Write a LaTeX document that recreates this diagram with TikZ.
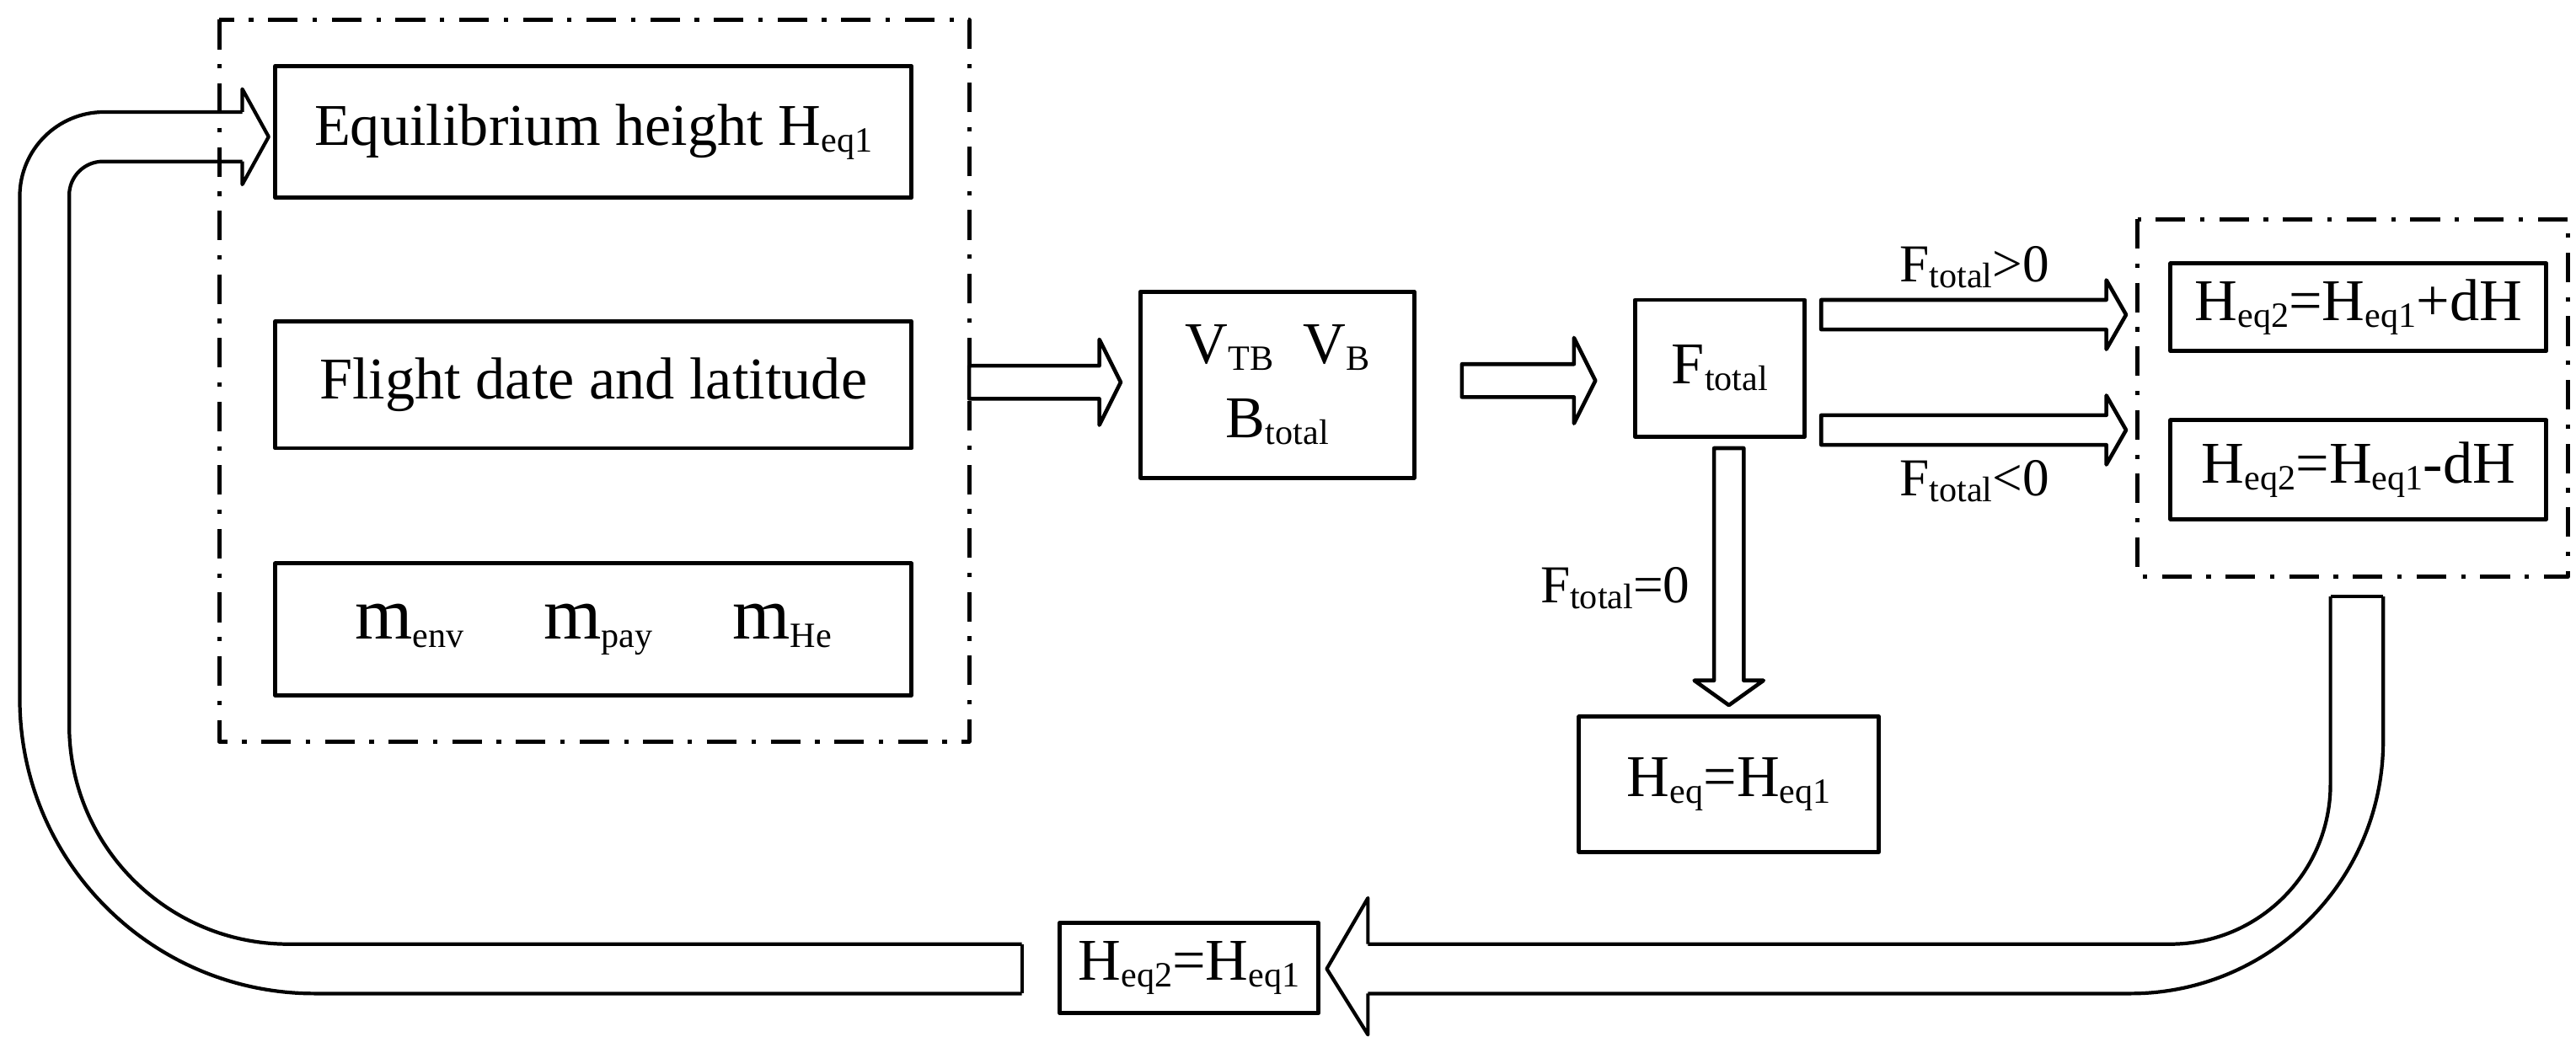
\documentclass[tikz,border=0pt]{standalone}
\usepackage{fontspec}
\setmainfont{Liberation Serif}
\usepackage{tikz}
\newcommand{\lo}[1]{\raisebox{-0.25ex}{\fontsize{12}{13}\selectfont #1}}

\begin{document}
\begin{tikzpicture}[x=0.01956cm,y=-0.01956cm,line join=round,
    box/.style={draw,line width=1.4pt,inner sep=0pt,align=center,font=\fontsize{20}{25}\selectfont},
    blk/.style={draw,line width=1.3pt,fill=white},
    pipe/.style={draw,line width=1.2pt},
    dashdot/.style={line width=1.4pt,dash pattern=on 10pt off 5pt on 1.5pt off 5pt},
    lab/.style={inner sep=0pt,font=\fontsize{18}{22}\selectfont}]
      \useasboundingbox (0,0) rectangle (1563,629);
      % input group
      \draw[dashdot] (133,12) rectangle (588,450);
      \node[box,minimum width=7.55cm,minimum height=1.565cm] (height) at (360,80) {Equilibrium height H\lo{eq1}};
      \node[box,minimum width=7.55cm,minimum height=1.506cm] (date) at (360,233.5) {Flight date and latitude};
      \node[box,minimum width=7.55cm,minimum height=1.565cm] (mass) at (360,382)
        {\fontsize{25}{27}\selectfont m\lo{env}\hspace{0.95cm}m\lo{pay}\hspace{0.95cm}m\lo{He}};
      % volume and buoyancy
      \node[box,minimum width=3.247cm,minimum height=2.21cm] (buoy) at (775,233.5) {V\lo{TB}\ \ V\lo{B}\\B\lo{total}};
      \node[box,minimum width=2.015cm,minimum height=1.623cm] (force) at (1043.5,223.5) {F\lo{total}};
      % results
      \draw[dashdot] (1297,133) rectangle (1558,350);
      \node[box,minimum width=4.46cm,minimum height=1.037cm] (up) at (1431,186.5) {H\lo{eq2}=H\lo{eq1}+dH};
      \node[box,minimum width=4.46cm,minimum height=1.174cm] (down) at (1431,285) {H\lo{eq2}=H\lo{eq1}-dH};
      \node[box,minimum width=3.56cm,minimum height=1.604cm] (stay) at (1049,476) {H\lo{eq}=H\lo{eq1}};
      \node[box,minimum width=3.07cm,minimum height=1.076cm] (next) at (721.5,587.5) {H\lo{eq2}=H\lo{eq1}};
      % block arrows
      \draw[blk] (588,222) -- (667,222) -- (667,206) -- (680,232) -- (667,258) -- (667,242) -- (588,242) -- cycle;
      \draw[blk] (887,221) -- (955,221) -- (955,205) -- (968,231) -- (955,257) -- (955,241) -- (887,241) -- cycle;
      \draw[blk] (1105,182) -- (1278,182) -- (1278,170) -- (1290,191) -- (1278,212) -- (1278,200) -- (1105,200) -- cycle;
      \draw[blk] (1105,252) -- (1278,252) -- (1278,240) -- (1290,261) -- (1278,282) -- (1278,270) -- (1105,270) -- cycle;
      \draw[blk] (1040,272) -- (1058,272) -- (1058,413) -- (1070,413) -- (1049,428) -- (1028,413) -- (1040,413) -- cycle;
      \node[lab] (gt) at (1198,162) {F\lo{total}>0};
      \node[lab] (lt) at (1198,292) {F\lo{total}<0};
      \node[lab] (eq) at (980,357) {F\lo{total}=0};
      % feedback loop
      \draw[pipe,rounded corners=1.9cm] (1414,362) -- (1414,573) -- (830,573);
      \draw[pipe] (830,573) -- (830,545) -- (805,588) -- (830,628) -- (830,603);
      \draw[pipe,rounded corners=3.0cm] (830,603) -- (1446,603) -- (1446,362);
      \draw[pipe] (1414,362) -- (1446,362);
      \draw[pipe] (620,573) -- (620,603);
      \draw[pipe,rounded corners=3.5cm] (620,603) -- (12,603) -- (12,300);
      \draw[pipe,rounded corners=1cm] (12,300) -- (12,68) -- (147,68);
      \draw[pipe,rounded corners=2.6cm] (620,573) -- (42,573) -- (42,300);
      \draw[pipe,rounded corners=0.4cm] (42,300) -- (42,98) -- (147,98);
      \draw[pipe] (147,68) -- (147,54) -- (163,83) -- (147,112) -- (147,98);
\end{tikzpicture}
\end{document}
